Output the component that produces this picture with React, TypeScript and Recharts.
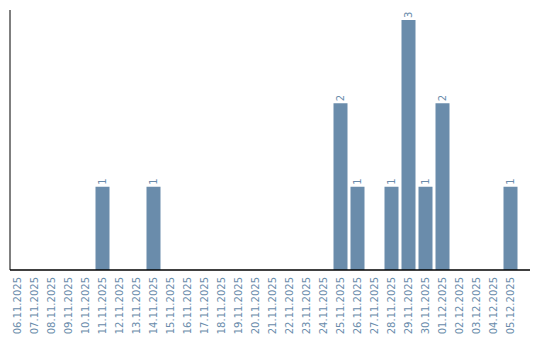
import React from "react";
import { BarChart, Bar, XAxis, YAxis, LabelList } from "recharts";

const dates = [
  "06.11.2025", "07.11.2025", "08.11.2025", "09.11.2025", "10.11.2025",
  "11.11.2025", "12.11.2025", "13.11.2025", "14.11.2025", "15.11.2025",
  "16.11.2025", "17.11.2025", "18.11.2025", "19.11.2025", "20.11.2025",
  "21.11.2025", "22.11.2025", "23.11.2025", "24.11.2025", "25.11.2025",
  "26.11.2025", "27.11.2025", "28.11.2025", "29.11.2025", "30.11.2025",
  "01.12.2025", "02.12.2025", "03.12.2025", "04.12.2025", "05.12.2025",
];
const counts = [
  0, 0, 0, 0, 0,
  1, 0, 0, 1, 0,
  0, 0, 0, 0, 0,
  0, 0, 0, 0, 2,
  1, 0, 1, 3, 1,
  2, 0, 0, 0, 1,
];

const data = dates.map((d, i) => ({ date: d, value: counts[i] }));

const COLOR = "#6a8cab";
const FONT = "DejaVu Sans";

const Tick = (props: any) => {
  const { x, y, payload } = props;
  return (
    <text
      x={0}
      y={0}
      transform={`translate(${x + 3.5},${y - 1}) rotate(-90)`}
      textAnchor="end"
      fontFamily={FONT}
      fontSize={10}
      fill={COLOR}
    >
      {payload.value}
    </text>
  );
};

const ValueLabel = (props: any) => {
  const { x, y, width, value } = props;
  if (!value) return null;
  const cx = x + width / 2 + 3.5;
  return (
    <text
      x={0}
      y={0}
      transform={`translate(${cx},${y - 2}) rotate(-90)`}
      textAnchor="start"
      fontFamily={FONT}
      fontSize={10}
      fill={COLOR}
    >
      {value}
    </text>
  );
};

export default function App() {
  return (
    <div style={{ width: 532, height: 332 }}>
      <BarChart
        width={532}
        height={332}
        data={data}
        margin={{ top: 2, right: 10, left: 1, bottom: 0 }}
        barSize={14}
      >
        <XAxis
          dataKey="date"
          interval={0}
          tick={<Tick />}
          tickLine={false}
          axisLine={{ stroke: "#000", strokeWidth: 1.5 }}
          height={70}
          padding={{ left: -1.5, right: 11.5 }}
        />
        <YAxis
          domain={[0, 3.12]}
          tick={false}
          tickLine={false}
          axisLine={{ stroke: "#000", strokeWidth: 1 }}
          width={1}
        />
        <Bar dataKey="value" fill={COLOR} isAnimationActive={false}>
          <LabelList dataKey="value" content={<ValueLabel />} />
        </Bar>
      </BarChart>
    </div>
  );
}
